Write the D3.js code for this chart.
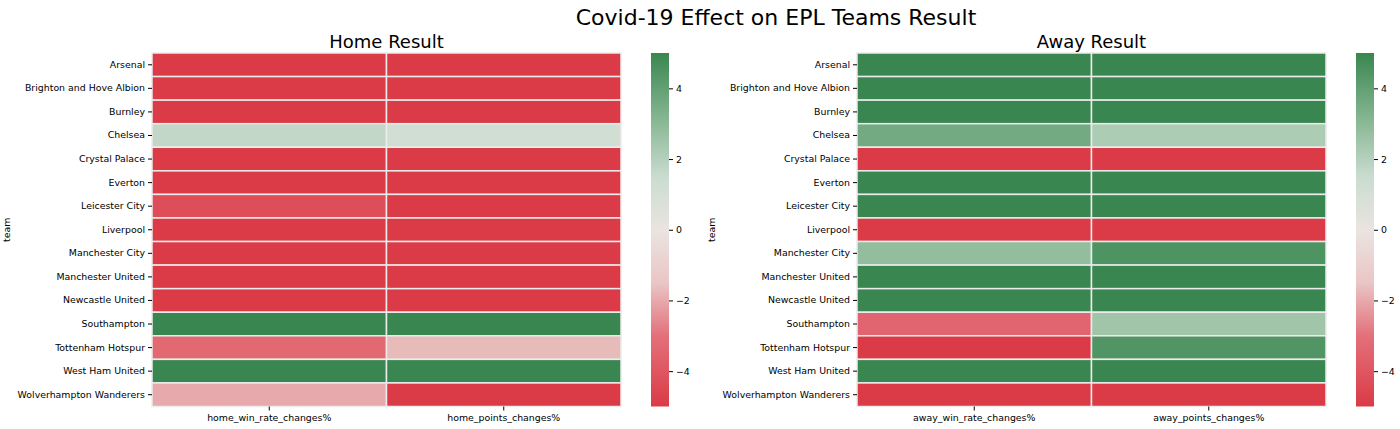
<!DOCTYPE html>
<html><head><meta charset="utf-8">
<script src="https://cdn.jsdelivr.net/npm/d3@7"></script>
<style>body{margin:0;background:#fff;} text{font-family:"DejaVu Sans",sans-serif;}</style>
</head><body>
<svg id="chart" width="1400" height="429"></svg>
<script>
const teams = ["Arsenal","Brighton and Hove Albion","Burnley","Chelsea","Crystal Palace","Everton","Leicester City","Liverpool","Manchester City","Manchester United","Newcastle United","Southampton","Tottenham Hotspur","West Ham United","Wolverhampton Wanderers"];
const homeColumns = ["home_win_rate_changes%","home_points_changes%"];
const awayColumns = ["away_win_rate_changes%","away_points_changes%"];
const homeWinRate = [-12,-9,-10,1.7,-11,-8,-4.3,-14,-9,-7,-10,9,-3.3,8,-2];
const homePoints  = [-10,-8,-9,1.2,-12,-7,-8,-13,-10,-6,-9,8,-1.7,7,-9];
const awayWinRate = [8,10,9,3.6,-7,6,7,-12,2.8,9,8,-3.4,-8,10,-9];
const awayPoints  = [9,11,8,2.2,-8,7,6,-11,4.5,8,9,2.5,4.4,11,-10];
const cbarTicks = [-4,-2,0,2,4];
const vmin = -5, vmax = 5;
const colorStops = [-5,-3,-1.5,0,1.5,3,5];
const colorValues = ["#da3b46","#e3707a","#e9c6c5","#eae4e1","#cadccf","#8bb996","#3a8650"];

const color = d3.scaleLinear().domain(colorStops).range(colorValues).clamp(true);

const svg = d3.select("#chart");
svg.append("text").attr("x",776).attr("y",25).attr("text-anchor","middle").attr("font-size",22).text("Covid-19 Effect on EPL Teams Result");

function panel(x0, x1, cx0, title, cols, s1, s2) {
  const y0 = 53, y1 = 406.5;
  const g = svg.append("g");
  const xs = d3.scaleBand().domain(cols).range([x0,x1]);
  const ys = d3.scaleBand().domain(teams).range([y0,y1]);
  const cells = [];
  teams.forEach((t,i)=>{ cells.push({t,c:cols[0],v:s1[i]}); cells.push({t,c:cols[1],v:s2[i]}); });
  g.selectAll("rect.cell").data(cells).join("rect").attr("class","cell")
    .attr("x",d=>xs(d.c)).attr("y",d=>ys(d.t)).attr("width",xs.bandwidth()).attr("height",ys.bandwidth())
    .attr("fill",d=>color(d.v)).attr("stroke","#ececec").attr("stroke-width",1.5);
  const ya = g.append("g").attr("transform",`translate(${x0},0)`).call(d3.axisLeft(ys).tickSize(4).tickPadding(3));
  ya.select(".domain").remove();
  ya.selectAll("text").attr("font-size",9.4).attr("font-family","DejaVu Sans").attr("fill","#000");
  const xa = g.append("g").attr("transform",`translate(0,${y1})`).call(d3.axisBottom(xs).tickSize(4).tickPadding(4));
  xa.select(".domain").remove();
  xa.selectAll("text").attr("font-size",9.4).attr("font-family","DejaVu Sans").attr("fill","#000");
  g.append("text").attr("transform",`translate(${x0-142},${(y0+y1)/2}) rotate(-90)`).attr("text-anchor","middle").attr("font-size",9.4).text("team");
  g.append("text").attr("x",(x0+x1)/2).attr("y",48).attr("text-anchor","middle").attr("font-size",18).text(title);
  // colorbar
  const cs = d3.scaleLinear().domain([vmin,vmax]).range([y1,y0]);
  const gid = "grad"+Math.round(x0);
  const grad = svg.append("defs").append("linearGradient").attr("id",gid).attr("x1",0).attr("y1",1).attr("x2",0).attr("y2",0);
  d3.range(0,21).forEach(i=>{ const v = vmin + i*0.5; grad.append("stop").attr("offset",i/20).attr("stop-color",color(v)); });
  g.append("rect").attr("x",cx0).attr("y",y0).attr("width",18).attr("height",y1-y0).attr("fill",`url(#${gid})`);
  const ca = g.append("g").attr("transform",`translate(${cx0+18},0)`).call(d3.axisRight(cs).tickValues(cbarTicks).tickSize(4).tickPadding(3).tickFormat(d=>d<0?"\u2212"+Math.abs(d):d));
  ca.select(".domain").remove();
  ca.selectAll("text").attr("font-size",9.4).attr("font-family","DejaVu Sans").attr("fill","#000");
}
panel(152, 621, 651, "Home Result", homeColumns, homeWinRate, homePoints);
panel(857, 1326, 1356, "Away Result", awayColumns, awayWinRate, awayPoints);
</script>
</body></html>
